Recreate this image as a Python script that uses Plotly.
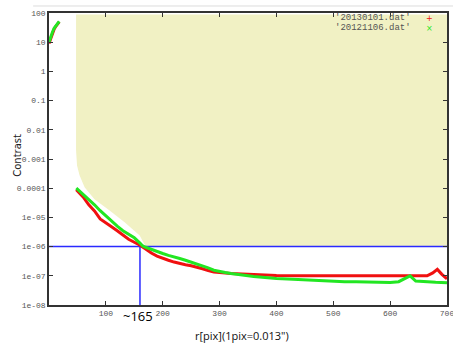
import plotly.graph_objects as go

# ---- data ----
# inner segment (r < 20)
inner_r = [0, 3, 6, 9, 12, 15, 18]
inner_red = [9.0, 14, 20, 28, 35, 43, 50]
inner_green = [10, 15.5, 22, 30, 37, 45, 52]

red_r = [48, 60, 70, 80, 90, 100, 110, 120, 130, 140, 150, 160, 170, 180, 190, 200,
         210, 220, 230, 240, 250, 260, 270, 280, 290, 300, 310, 320, 340, 360, 380,
         400, 440, 480, 520, 560, 600, 640, 665, 675, 683, 691, 700]
red_c = [8.9e-5, 5.0e-5, 2.7e-5, 1.66e-5, 8.9e-6, 6.3e-6, 4.8e-6, 3.5e-6, 2.5e-6, 1.78e-6,
         1.41e-6, 1.12e-6, 8.3e-7, 6.0e-7, 4.7e-7, 3.9e-7, 3.4e-7, 2.95e-7, 2.6e-7, 2.4e-7,
         2.2e-7, 2.0e-7, 1.74e-7, 1.51e-7, 1.35e-7, 1.29e-7, 1.23e-7, 1.2e-7, 1.15e-7, 1.1e-7,
         1.05e-7, 1.02e-7, 1.0e-7, 1.0e-7, 1.0e-7, 9.8e-8, 9.5e-8, 9.5e-8, 1.0e-7, 1.26e-7,
         1.66e-7, 1.12e-7, 7.9e-8]

green_r = [48, 60, 70, 80, 90, 100, 110, 120, 130, 140, 150, 160, 165, 170, 180, 190, 200,
           210, 220, 230, 240, 250, 260, 270, 280, 290, 300, 310, 320, 330, 340, 350, 360,
           370, 380, 390, 400, 420, 440, 460, 480, 500, 520, 540, 560, 580, 600, 615, 625,
           635, 645, 660, 680, 700]
green_c = [1.0e-4, 6.3e-5, 4.0e-5, 2.7e-5, 1.7e-5, 1.12e-5, 7.6e-6, 5.0e-6, 3.5e-6, 2.6e-6,
           2.0e-6, 1.32e-6, 1.05e-6, 9.5e-7, 7.9e-7, 6.8e-7, 5.8e-7, 5.0e-7, 4.5e-7, 3.9e-7,
           3.4e-7, 2.95e-7, 2.6e-7, 2.2e-7, 1.86e-7, 1.55e-7, 1.38e-7, 1.29e-7, 1.2e-7, 1.12e-7,
           1.05e-7, 1.0e-7, 9.5e-8, 9.1e-8, 8.7e-8, 8.3e-8, 8.1e-8, 7.8e-8, 7.4e-8, 7.1e-8,
           6.8e-8, 6.5e-8, 6.3e-8, 6.2e-8, 6.0e-8, 5.8e-8, 5.9e-8, 6.3e-8, 7.9e-8, 1.0e-7,
           6.6e-8, 6.2e-8, 6.0e-8, 5.8e-8]

# shaded zone boundary
zone_r = [47.6, 47.6, 49.3, 53.7, 62.6, 80, 106.6, 133, 159.5, 170, 700, 700]
zone_c = [88, 2.0e-3, 6e-4, 2.8e-4, 1.07e-4, 4.2e-5, 1.74e-5, 6.8e-6, 2.4e-6, 1e-6, 1e-6, 88]

threshold_c = 1e-6
cross_r = 160

x_ticks = [100, 200, 300, 400, 500, 600, 700]
y_ticks = [100, 10, 1, 0.1, 0.01, 0.001, 0.0001, 1e-5, 1e-6, 1e-7, 1e-8]
y_ticktext = ["100", "10", "1", "0.1", "0.01", "0.001", "0.0001", "1e-05", "1e-06", "1e-07", "1e-08"]

labels = ["'20130101.dat'", "'20121106.dat'"]

RED = "#f01010"
GREEN = "#22e622"
BLUE = "#2a2aff"

fig = go.Figure()

fig.add_trace(go.Scatter(x=zone_r, y=zone_c, mode="lines", fill="toself",
                         fillcolor="#f1f1c4", line=dict(width=0, color="#f1f1c4"),
                         hoverinfo="skip", showlegend=False))

# reference lines
fig.add_trace(go.Scatter(x=[0, 700], y=[threshold_c, threshold_c], mode="lines",
                         line=dict(color=BLUE, width=1.5), showlegend=False))
fig.add_trace(go.Scatter(x=[cross_r, cross_r], y=[1e-8, threshold_c], mode="lines",
                         line=dict(color=BLUE, width=1.5), showlegend=False))

fig.add_trace(go.Scatter(x=inner_r + [None] + red_r, y=inner_red + [None] + red_c,
                         mode="lines", line=dict(color=RED, width=3),
                         name=labels[0], showlegend=False))
fig.add_trace(go.Scatter(x=inner_r + [None] + green_r, y=inner_green + [None] + green_c,
                         mode="lines", line=dict(color=GREEN, width=3),
                         name=labels[1], showlegend=False))

tickfont = dict(family="Liberation Mono", size=8, color="#555")

fig.update_xaxes(range=[0, 700], tickvals=x_ticks, ticks="inside", ticklen=4,
                 tickcolor="#333", showline=True, linecolor="#333", linewidth=1.5,
                 mirror="ticks", showgrid=False, zeroline=False, tickfont=tickfont,
                 automargin=False, ticklabeloverflow="allow")
fig.update_yaxes(type="log", range=[-8, 2], tickvals=y_ticks, ticktext=y_ticktext,
                 ticks="inside", ticklen=4, tickcolor="#333", showline=True,
                 linecolor="#333", linewidth=1.5, mirror="ticks", showgrid=False,
                 zeroline=False, tickfont=tickfont, automargin=False,
                 ticklabeloverflow="allow")

ann = [
    dict(x=0.484, y=-0.106, xref="paper", yref="paper", text="r[pix](1pix=0.013\")",
         showarrow=False, xanchor="center", yanchor="middle",
         font=dict(family="Open Sans", size=11, color="#111")),
    dict(x=-0.079, y=0.513, xref="paper", yref="paper", text="Contrast", textangle=-90,
         showarrow=False, xanchor="center", yanchor="middle",
         font=dict(family="DejaVu Sans", size=10, color="#222")),
    dict(x=156, y=-0.036, xref="x", yref="paper", text="~165", showarrow=False,
         xanchor="center", yanchor="middle",
         font=dict(family="Open Sans", size=13, color="#000")),
    dict(x=0.915, y=0.982, xref="paper", yref="paper", text=labels[0], xanchor="right",
         yanchor="middle", showarrow=False,
         font=dict(family="Liberation Mono", size=9, color="#555")),
    dict(x=0.915, y=0.947, xref="paper", yref="paper", text=labels[1], xanchor="right",
         yanchor="middle", showarrow=False,
         font=dict(family="Liberation Mono", size=9, color="#555")),
    dict(x=0.955, y=0.982, xref="paper", yref="paper", text="+", showarrow=False,
         xanchor="center", yanchor="middle",
         font=dict(family="DejaVu Sans", size=8, color=RED)),
    dict(x=0.955, y=0.947, xref="paper", yref="paper", text="×", showarrow=False,
         xanchor="center", yanchor="middle",
         font=dict(family="DejaVu Sans", size=8, color=GREEN)),
]

fig.update_layout(
    width=453, height=345,
    margin=dict(l=49, r=6, t=13, b=40, autoexpand=False),
    paper_bgcolor="white", plot_bgcolor="white",
    annotations=ann,
    showlegend=False,
    shapes=[dict(type="line", xref="paper", yref="paper", x0=-0.04, x1=1.02,
                 y0=1.024, y1=1.024, line=dict(color="#dddddd", width=1))],
)

fig.write_html("out.html", config={"displayModeBar": False},
               post_script="document.body.style.margin='0px';")
